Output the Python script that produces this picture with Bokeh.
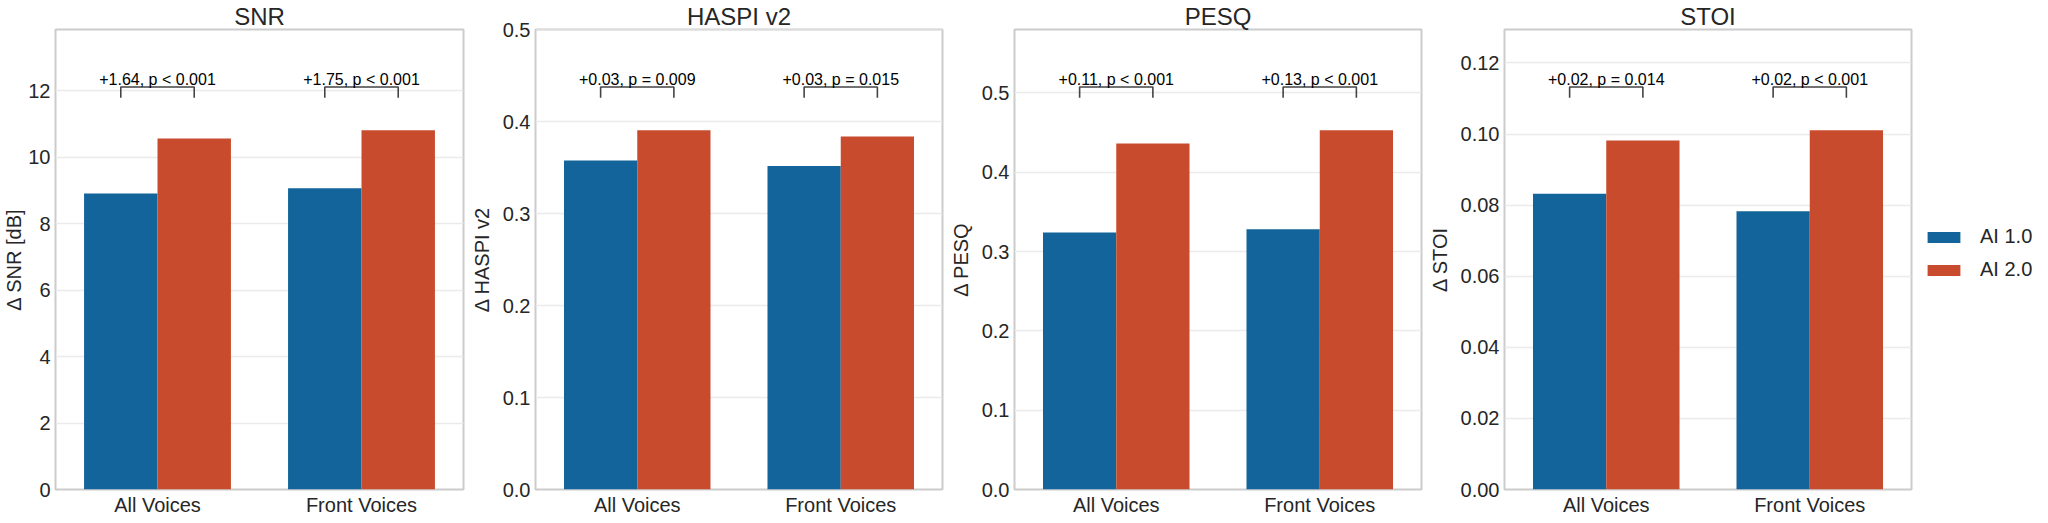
from bokeh.plotting import figure
from bokeh.layouts import row
from bokeh.models import Range1d, FixedTicker, Legend, LegendItem
from bokeh.embed import file_html
from bokeh.resources import INLINE

# ---------------- data ----------------
categories = ["All Voices", "Front Voices"]
series_names = ["AI 1.0", "AI 2.0"]
metrics = ["SNR", "HASPI v2", "PESQ", "STOI"]
y_labels = ["Δ SNR [dB]", "Δ HASPI v2", "Δ PESQ", "Δ STOI"]

snr_ai1 = [8.91, 9.07]
snr_ai2 = [10.57, 10.82]
haspi_ai1 = [0.358, 0.352]
haspi_ai2 = [0.391, 0.384]
pesq_ai1 = [0.324, 0.328]
pesq_ai2 = [0.436, 0.453]
stoi_ai1 = [0.0832, 0.0783]
stoi_ai2 = [0.0982, 0.1011]

snr_notes = ["+1.64, p < 0.001", "+1.75, p < 0.001"]
haspi_notes = ["+0.03, p = 0.009", "+0.03, p = 0.015"]
pesq_notes = ["+0.11, p < 0.001", "+0.13, p < 0.001"]
stoi_notes = ["+0.02, p = 0.014", "+0.02, p < 0.001"]

snr_ticks = [0, 2, 4, 6, 8, 10, 12]
haspi_ticks = [0.0, 0.1, 0.2, 0.3, 0.4, 0.5]
pesq_ticks = [0.0, 0.1, 0.2, 0.3, 0.4, 0.5]
stoi_ticks = [0.00, 0.02, 0.04, 0.06, 0.08, 0.10, 0.12]
snr_tick_labels = ["0", "2", "4", "6", "8", "10", "12"]
haspi_tick_labels = ["0.0", "0.1", "0.2", "0.3", "0.4", "0.5"]
pesq_tick_labels = ["0.0", "0.1", "0.2", "0.3", "0.4", "0.5"]
stoi_tick_labels = ["0.00", "0.02", "0.04", "0.06", "0.08", "0.10", "0.12"]

# ---------------- style ----------------
BLUE = "#13649A"
RED = "#C84B2E"
TXT = "#262626"
FONT = "Liberation Sans"
BAR_W = 0.36
FS = "20px"

panels = [
    (snr_ai1, snr_ai2, snr_notes, snr_ticks, snr_tick_labels, 50, 4, 408, 0),
    (haspi_ai1, haspi_ai2, haspi_notes, haspi_ticks, haspi_tick_labels, 66, 4, 407, 7),
    (pesq_ai1, pesq_ai2, pesq_notes, pesq_ticks, pesq_tick_labels, 65, 4, 407, 7),
    (stoi_ai1, stoi_ai2, stoi_notes, stoi_ticks, stoi_tick_labels, 77, 12, 407, 7),
]

figs = []
for i, (a1, a2, notes, ticks, tlabels, bl, br, fw, als) in enumerate(panels):
    m = max(a1 + a2)
    p = figure(frame_width=fw, frame_height=460,
               x_range=Range1d(-0.5, 1.5), y_range=Range1d(0, 1.28 * m),
               output_backend="svg", toolbar_location=None,
               min_border_left=bl, min_border_right=br,
               min_border_top=25, min_border_bottom=22,
               title=metrics[i])
    p.title.align = "center"
    p.title.text_font = FONT
    p.title.text_font_size = "24px"
    p.title.text_font_style = "normal"
    p.title.text_color = TXT
    p.title.standoff = 0
    p.title.offset = 0

    xs = list(range(len(categories)))
    p.vbar(x=[x - BAR_W / 2 for x in xs], top=a1, width=BAR_W,
           fill_color=BLUE, line_color=None)
    p.vbar(x=[x + BAR_W / 2 for x in xs], top=a2, width=BAR_W,
           fill_color=RED, line_color=None)

    top = 1.12 * m
    bot = 1.09 * m
    bx = [[x - BAR_W / 2, x - BAR_W / 2, x + BAR_W / 2, x + BAR_W / 2] for x in xs]
    by = [[bot, top, top, bot] for _ in xs]
    p.multi_line(xs=bx, ys=by, line_color="#444444", line_width=1.6)
    p.text(x=xs, y=[1.14 * m] * len(xs), text=notes,
           text_align="center", text_baseline="alphabetic",
           text_font_size="16px", text_color="#000000",
           text_font={"value": FONT})

    p.outline_line_color = "#CCCCCC"
    p.outline_line_width = 2
    p.background_fill_color = "white"
    p.border_fill_color = "white"
    p.xgrid.visible = False
    p.ygrid.grid_line_color = "#EBEBEB"
    p.ygrid.grid_line_width = 1.5
    p.ygrid.ticker = FixedTicker(ticks=ticks)

    p.xaxis.ticker = FixedTicker(ticks=xs)
    p.xaxis.major_label_overrides = {x: c for x, c in zip(xs, categories)}
    p.yaxis.ticker = FixedTicker(ticks=ticks)
    p.yaxis.major_label_overrides = {t: l for t, l in zip(ticks, tlabels)}
    p.yaxis.axis_label = y_labels[i]
    p.yaxis.axis_label_standoff = als
    for ax in (p.xaxis[0], p.yaxis[0]):
        ax.axis_line_color = None
        ax.major_tick_line_color = None
        ax.minor_tick_line_color = None
        ax.major_tick_out = 0
        ax.major_tick_in = 0
        ax.major_label_text_font = FONT
        ax.major_label_text_font_size = FS
        ax.major_label_text_color = TXT
        ax.axis_label_text_font = FONT
        ax.axis_label_text_font_size = FS
        ax.axis_label_text_font_style = "normal"
        ax.axis_label_text_color = TXT
    p.xaxis.major_label_standoff = 4
    p.yaxis.major_label_standoff = 5
    figs.append(p)

# ---------------- legend (own small figure to the right) ----------------
lg = figure(frame_width=121, frame_height=460,
            x_range=Range1d(0, 1), y_range=Range1d(0, 1),
            output_backend="svg", toolbar_location=None,
            min_border_left=0, min_border_right=0,
            min_border_top=25, min_border_bottom=22)
lg.axis.visible = False
lg.grid.visible = False
lg.outline_line_color = None
# zero-height placeholder bars: they only supply the legend swatches
lr1 = lg.vbar(x=[0.5], top=[0], bottom=[0], width=0.5, fill_color=BLUE, line_color=None)
lr2 = lg.vbar(x=[0.5], top=[0], bottom=[0], width=0.5, fill_color=RED, line_color=None)
legend = Legend(items=[LegendItem(label=series_names[0], renderers=[lr1]),
                       LegendItem(label=series_names[1], renderers=[lr2])],
                location=(0, 208))
legend.border_line_color = None
legend.background_fill_alpha = 0
legend.margin = 0
legend.padding = 0
legend.glyph_width = 41
legend.glyph_height = 14
legend.label_height = 20
legend.spacing = 10
legend.label_standoff = 16
legend.label_text_font = FONT
legend.label_text_font_size = FS
legend.label_text_color = TXT
lg.add_layout(legend)
figs.append(lg)

layout = row(*figs, spacing=0)
open("out.html", "w").write(file_html(layout, INLINE))
